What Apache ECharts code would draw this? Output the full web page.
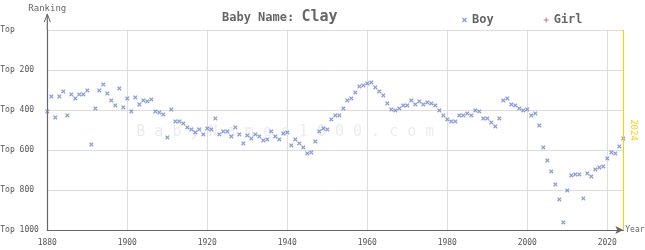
<!DOCTYPE html>
<html>
<head>
<meta charset="utf-8">
<script src="https://cdn.jsdelivr.net/npm/echarts@6/dist/echarts.min.js"></script>
<style>html,body{margin:0;padding:0;background:#fff}#c{width:645px;height:250px}</style>
</head>
<body>
<div id="c"></div>
<script>
const years = [];
for (let y = 1880; y <= 2024; y++) years.push(y);
const boyRanks = [
407,332,437,332,307,427,322,342,322,322,
302,572,392,302,272,317,352,377,292,387,
342,407,337,372,352,357,347,407,412,422,
537,397,457,457,467,487,497,512,497,522,
492,497,442,522,507,507,532,487,522,567,
527,542,522,532,552,547,507,532,547,517,
512,577,547,567,587,617,612,557,507,492,
497,447,427,427,392,352,342,312,282,277,
267,262,287,307,327,367,397,402,392,377,
377,352,372,357,372,362,367,377,402,427,
447,457,457,427,427,417,427,402,407,442,
442,462,482,442,352,342,372,377,392,402,
397,427,417,477,587,652,707,772,847,962,
802,727,722,722,842,717,732,697,687,682,
642,612,617,582,542
];
const girlRanks = [];
const yTickLabels = ['Top', 'Top 200', 'Top 400', 'Top 600', 'Top 800', 'Top 1000'];
const markYear = 2024;
const titleLabel = 'Baby Name:';
const nameLabel = 'Clay';
const watermark = 'B a b y N a m e s 1 0 0 0 . c o m';

const FONT = '"DejaVu Sans Mono", monospace';
const crossPath = 'path://M0,2L2,0L5,3L8,0L10,2L7,5L10,8L8,10L5,7L2,10L0,8L3,5Z';
const plusPath = 'path://M4,0L6,0L6,4L10,4L10,6L6,6L6,10L4,10L4,6L0,6L0,4L4,4Z';

const chart = echarts.init(document.getElementById('c'), null, {renderer: 'canvas'});
const option = {
  animation: false,
  backgroundColor: '#fff',
  title: {
    text: '{a|' + titleLabel + ' }{b|' + nameLabel + '}',
    left: 217, top: 5,
    textStyle: {
      rich: {
        a: {fontFamily: FONT, fontSize: 12, fontWeight: 'bold', color: '#666'},
        b: {fontFamily: FONT, fontSize: 15, color: '#666'}
      }
    }
  },
  legend: {
    left: 457, top: 9,
    itemWidth: 5, itemHeight: 5, itemGap: 50,
    textStyle: {fontFamily: FONT, fontSize: 12, fontWeight: 'bold', color: '#666'},
    data: [{name: 'Boy', icon: crossPath}, {name: 'Girl', icon: plusPath}]
  },
  grid: {left: 47.3, top: 30, width: 576, height: 200, containLabel: false, outerBoundsMode: 'none'},
  xAxis: {
    type: 'value', min: 1880, max: 2024, interval: 20, position: 'bottom',
    name: 'Year', nameLocation: 'end', nameGap: 2,
    nameTextStyle: {fontFamily: FONT, fontSize: 8, color: '#666', verticalAlign: 'middle'},
    axisLine: {onZero: false, lineStyle: {color: '#666', width: 1.2}, symbol: ['none', 'arrow'], symbolSize: [6, 8]},
    axisTick: {show: false},
    axisLabel: {fontFamily: FONT, fontSize: 8, color: '#555', margin: 9, showMaxLabel: false,
      formatter: v => (v % 20 === 0 ? String(v) : '')},
    splitLine: {show: true, lineStyle: {color: '#ddd', width: 1}}
  },
  yAxis: {
    type: 'value', min: 0, max: 1000, interval: 200, inverse: true,
    name: 'Ranking', nameLocation: 'start', nameGap: 17,
    nameTextStyle: {fontFamily: FONT, fontSize: 9, color: '#666'},
    axisLine: {onZero: false, lineStyle: {color: '#666', width: 1.2}},
    axisTick: {show: false},
    axisLabel: {fontFamily: FONT, fontSize: 8, color: '#555', align: 'left', margin: 47,
      formatter: v => yTickLabels[Math.round(v / 200)]},
    splitLine: {show: true, lineStyle: {color: '#ddd', width: 1}}
  },
  series: [
    {
      name: 'Boy', type: 'scatter', symbol: crossPath, symbolSize: 4.5,
      itemStyle: {color: '#6f84ca'}, z: 3,
      data: years.map((y, i) => [y, boyRanks[i]]),
      markLine: {
        silent: true, symbol: ['none', 'none'],
        lineStyle: {color: '#f2d216', width: 1.2, type: 'solid'},
        label: {show: true, formatter: String(markYear), position: 'insideMiddleTop',
          fontFamily: FONT, fontSize: 9, color: '#f2d216', distance: 6},
        data: [{xAxis: markYear}]
      }
    },
    {
      name: 'Girl', type: 'scatter', symbol: plusPath, symbolSize: 5,
      itemStyle: {color: '#c0507a'}, data: girlRanks
    }
  ]
};
chart.setOption(option);

// watermark and y-axis arrow extension
const p0 = chart.convertToPixel({gridIndex: 0}, [1880, 0]);
const pm = chart.convertToPixel({gridIndex: 0}, [1952, 500]);
chart.setOption({
  graphic: [
    {type: 'text', z: 0,
      style: {text: watermark, x: pm[0] - 50, y: pm[1] + 2, textAlign: 'center', textVerticalAlign: 'middle',
        font: '15px ' + FONT, fill: '#ececec'}},
    {type: 'line', z: 5, shape: {x1: p0[0], y1: p0[1], x2: p0[0], y2: p0[1] - 15},
      style: {stroke: '#666', lineWidth: 1.2}},
    {type: 'polyline', z: 5, shape: {points: [[p0[0] - 3, p0[1] - 8], [p0[0], p0[1] - 16], [p0[0] + 3, p0[1] - 8]]},
      style: {stroke: '#666', lineWidth: 1, fill: null}}
  ]
});
</script>
</body>
</html>
